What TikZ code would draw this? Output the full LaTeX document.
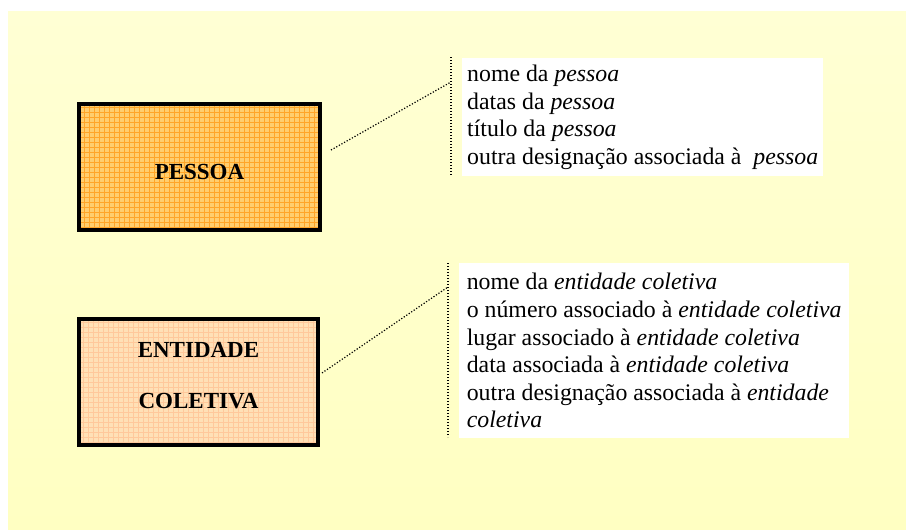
\documentclass[tikz,border=0pt]{standalone}
\usepackage{fontspec}
\setmainfont{Liberation Serif}
\usetikzlibrary{positioning}

\definecolor{bgtop}{RGB}{255,255,212}
\definecolor{bgbot}{RGB}{255,255,194}
\definecolor{orangefill}{RGB}{255,206,110}
\definecolor{orangegrid}{RGB}{255,165,40}
\definecolor{peachfill}{RGB}{255,224,182}
\definecolor{peachgrid}{RGB}{255,200,155}

\begin{document}
\begin{tikzpicture}[
  x=1pt, y=-1pt,
  entity/.style={draw=black, line width=4pt, inner sep=0pt, outer sep=0pt,
    minimum height=126pt},
  gridded/.style={path picture={
    \draw[#1, line width=0.45pt, step=5pt] (path picture bounding box.south west)
      grid (path picture bounding box.north east);}},
  label/.style={font=\bfseries\fontsize{23}{51}\selectfont, align=center, inner sep=0pt},
  infobox/.style={fill=white, align=left, anchor=north west, inner ysep=0pt,
    font=\fontsize{23.8}{27.6}\selectfont},
  dotline/.style={line width=1.2pt, dash pattern=on 1.2pt off 1.8pt}
  ]

  \useasboundingbox (0,0) rectangle (906,530);
  \shade[top color=bgtop, bottom color=bgbot] (8,11) rectangle (906,530);

  % entity boxes
  \node[entity, fill=orangefill, gridded=orangegrid, minimum width=241pt] (pessoa) at (199.5,167) {};
  \node[entity, fill=peachfill, gridded=peachgrid, minimum width=239pt] (entidade) at (198.5,382) {};

  \node[label] (pessoatxt) at ([shift={(0,4.5)}]pessoa.center) {PESSOA};
  \node[label] (entidadetxt) at ([shift={(0,-6.5)}]entidade.center) {ENTIDADE\\COLETIVA};

  % attribute lists
  \node[infobox, inner xsep=5pt, minimum width=361pt, minimum height=118pt] (pessoainfo) at (462,58)
    {nome da \emph{pessoa}\\
     datas da \emph{pessoa}\\
     título da \emph{pessoa}\\
     outra designação associada à~ \emph{pessoa}};
  \node[infobox, inner xsep=3pt, minimum width=390pt, minimum height=175pt] (entidadeinfo) at (459,263)
    {nome da \emph{entidade coletiva}\\
     o número associado à \emph{entidade coletiva}\\
     lugar associado à \emph{entidade coletiva}\\
     data associada à \emph{entidade coletiva}\\
     outra designação associada à \emph{entidade}\\
     \emph{coletiva}};

  % brackets and leaders
  \coordinate (pessoatop) at (451,57);
  \coordinate (pessoabot) at (451,176);
  \coordinate (pessoato) at (451,82);
  \coordinate (pessoafrom) at (331,150);

  \coordinate (entidadetop) at (448,263);
  \coordinate (entidadebot) at (448,437);
  \coordinate (entidadeto) at (448,287);
  \coordinate (entidadefrom) at (322,373);

  \draw[dotline] (pessoatop) -- (pessoabot);
  \draw[dotline] (pessoafrom) -- (pessoato);
  \draw[dotline] (entidadetop) -- (entidadebot);
  \draw[dotline] (entidadefrom) -- (entidadeto);

\end{tikzpicture}
\end{document}
